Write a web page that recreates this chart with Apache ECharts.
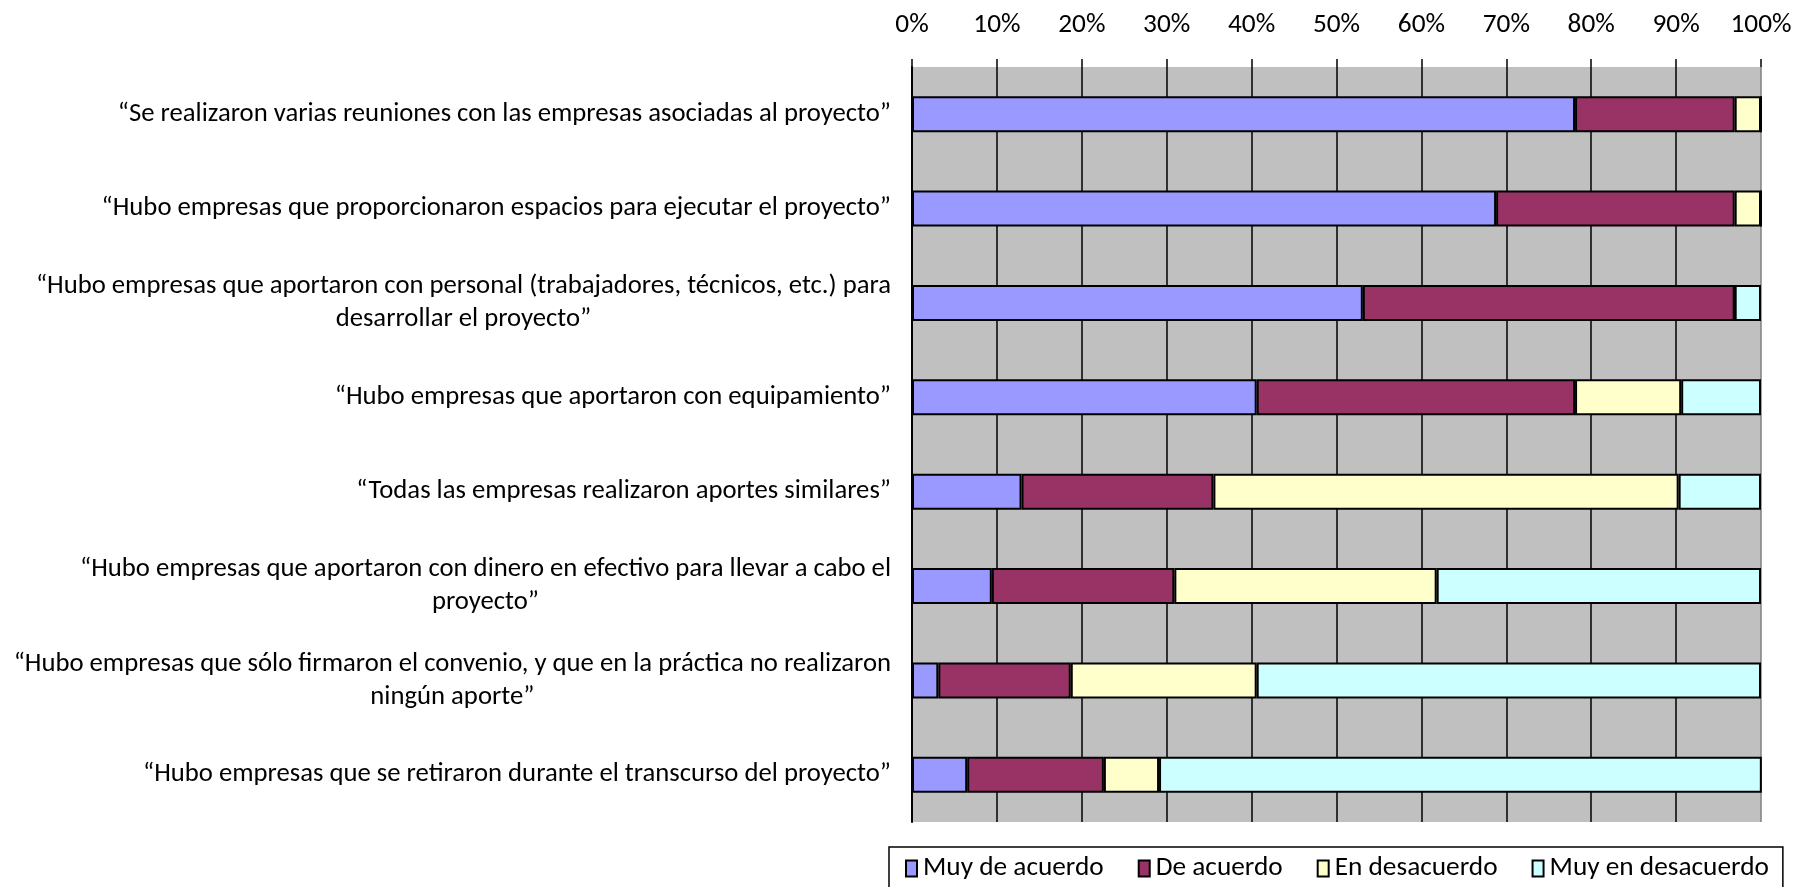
<!DOCTYPE html>
<html>
<head>
<meta charset="utf-8">
<script src="https://cdn.jsdelivr.net/npm/echarts@6/dist/echarts.min.js"></script>
<style>
html,body{margin:0;padding:0;background:#fff;}
#chart{width:1796px;height:887px;}
</style>
</head>
<body>
<div id="chart"></div>
<script>
// Categories (explicit line breaks as in the original)
const categories = [
  '“Se realizaron varias reuniones con las empresas asociadas al proyecto”',
  '“Hubo empresas que proporcionaron espacios para ejecutar el proyecto”',
  '“Hubo empresas que aportaron con personal (trabajadores, técnicos, etc.) para\ndesarrollar el proyecto”',
  '“Hubo empresas que aportaron con equipamiento”',
  '“Todas las empresas realizaron aportes similares”',
  '“Hubo empresas que aportaron con dinero en efectivo para llevar a cabo el\nproyecto”',
  '“Hubo empresas que sólo firmaron el convenio, y que en la práctica no realizaron\nningún aporte”',
  '“Hubo empresas que se retiraron durante el transcurso del proyecto”'
];
const seriesNames = ['Muy de acuerdo', 'De acuerdo', 'En desacuerdo', 'Muy en desacuerdo'];
const muyDeAcuerdo     = [78.1, 68.8, 53.1, 40.6, 12.9,  9.4,  3.1,  6.5];
const deAcuerdo        = [18.8, 28.1, 43.8, 37.5, 22.6, 21.5, 15.6, 16.1];
const enDesacuerdo     = [ 3.1,  3.1,  0.0, 12.5, 54.8, 30.9, 21.9,  6.5];
const muyEnDesacuerdo  = [ 0.0,  0.0,  3.1,  9.4,  9.7, 38.2, 59.4, 71.0];
const seriesColors = ['#9999FF', '#993366', '#FFFFCC', '#CCFFFF'];

const FONT = 'Carlito, Calibri, Lato, sans-serif';
const FS_CAT = 26.7;
const FS = 27.3;

const chart = echarts.init(document.getElementById('chart'), null, {renderer: 'canvas'});
const values = [muyDeAcuerdo, deAcuerdo, enDesacuerdo, muyEnDesacuerdo];

const option = {
  animation: false,
  backgroundColor: '#ffffff',
  textStyle: {fontFamily: FONT, color: '#000'},
  grid: {
    left: 912, right: 35, top: 67, bottom: 65,
    show: true, backgroundColor: '#C0C0C0', borderWidth: 0
  },
  legend: {
    left: 889, top: 847,
    padding: [8, 14, 12, 16],
    borderColor: '#000', borderWidth: 1.5,
    itemGap: 34, itemWidth: 11, itemHeight: 16,
    icon: 'rect',
    textStyle: {fontFamily: FONT, fontSize: FS, color: '#000', padding: [0, 0, 0, 1]},
    data: seriesNames
  },
  xAxis: {
    type: 'value', position: 'top',
    min: 0, max: 100, interval: 10,
    axisLine: {show: false},
    axisTick: {show: true, length: 8, lineStyle: {color: '#000', width: 1.5}},
    axisLabel: {formatter: '{value}%', fontFamily: FONT, fontSize: FS, color: '#000', margin: 28},
    splitLine: {show: true, lineStyle: {color: ['#000','#000','#000','#000','#000','#000','#000','#000','#000','#000','#808080'], width: 1.5}}
  },
  yAxis: {
    type: 'category', inverse: true, data: categories,
    axisLine: {show: true, lineStyle: {color: '#000', width: 2}},
    axisTick: {show: false},
    axisLabel: {
      margin: 21, fontFamily: FONT, fontSize: FS_CAT, color: '#000', lineHeight: 33,
      formatter: function (v) {
        const lines = v.split('\n');
        if (lines.length === 1) return '{a|' + lines[0] + '}';
        return '{a|' + lines[0] + '}\n{c|' + lines[1] + '}';
      },
      rich: {
        a: {fontFamily: FONT, fontSize: FS_CAT, color: '#000', lineHeight: 33, align: 'right'},
        c: {fontFamily: FONT, fontSize: FS_CAT, color: '#000', lineHeight: 33, align: 'center'}
      }
    }
  },
  series: seriesNames.map(function (name, i) {
    return {
      name: name, type: 'bar', stack: 'total',
      barWidth: 36,
      itemStyle: {color: seriesColors[i], borderColor: '#000', borderWidth: 2},
      emphasis: {disabled: true},
      data: values[i]
    };
  })
};
chart.setOption(option);
</script>
</body>
</html>
